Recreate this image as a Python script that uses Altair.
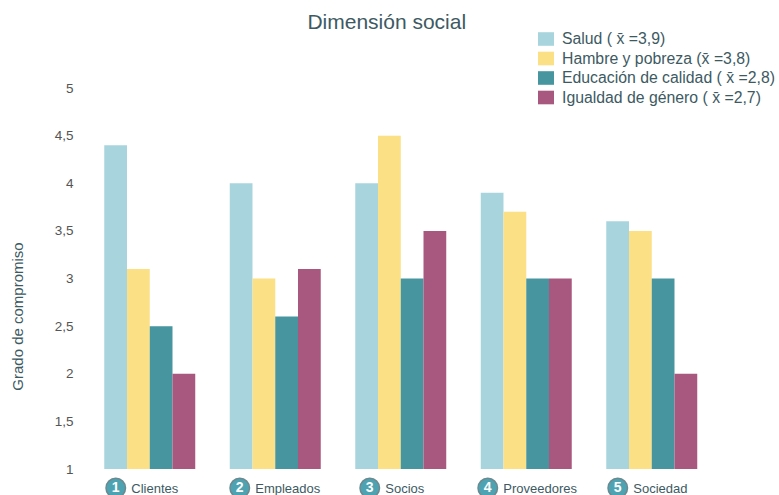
import altair as alt
import pandas as pd

# Stakeholder groups along the x axis and their index numbers
categories = ["Clientes", "Empleados", "Socios", "Proveedores", "Sociedad"]
numbers = ["1", "2", "3", "4", "5"]

# Series (legend entries) and their scores per group
series = [
    "Salud ( x\u0304 =3,9)",
    "Hambre y pobreza (x\u0304 =3,8)",
    "Educación de calidad ( x\u0304 =2,8)",
    "Igualdad de género ( x\u0304 =2,7)",
]
salud = [4.4, 4.0, 4.0, 3.9, 3.6]
hambre = [3.1, 3.0, 4.5, 3.7, 3.5]
educacion = [2.5, 2.6, 3.0, 3.0, 3.0]
igualdad = [2.0, 3.1, 3.5, 3.0, 2.0]

colors = ["#a8d5dd", "#fbe085", "#46959f", "#a8577e"]
y_ticks = [1, 1.5, 2, 2.5, 3, 3.5, 4, 4.5, 5]

rows = []
for s, vals in zip(series, [salud, hambre, educacion, igualdad]):
    for c, v in zip(categories, vals):
        rows.append({"grupo": c, "serie": s, "valor": v})
bars_df = pd.DataFrame(rows)
labels_df = pd.DataFrame({"grupo": categories, "num": numbers})

FONT = "Liberation Sans"
TEXT = "#3d5a63"

x_enc = alt.X(
    "grupo:N",
    sort=categories,
    axis=None,
    scale=alt.Scale(paddingInner=0.275, paddingOuter=0.1375),
)

bars = alt.Chart(bars_df).mark_bar().encode(
    x=x_enc,
    xOffset=alt.XOffset("serie:N", sort=series, scale=alt.Scale(paddingInner=0, paddingOuter=0)),
    y=alt.Y(
        "valor:Q",
        scale=alt.Scale(domain=[1, 5], nice=False, zero=False),
        axis=alt.Axis(
            values=y_ticks,
            labelExpr="replace(toString(datum.value), '.', ',')",
            domain=False,
            ticks=False,
            grid=False,
            labelPadding=14,
            labelFontSize=13.5,
            labelColor="#555555",
            labelFont=FONT,
            title="Grado de compromiso",
            titleFont=FONT,
            titleFontSize=15,
            titleFontWeight="normal",
            titleColor=TEXT,
            titleAngle=-90,
            titleX=-70,
            titleY=228,
            titleAlign="center",
            titleBaseline="middle",
        ),
    ),
    y2=alt.datum(1),
    color=alt.Color(
        "serie:N",
        sort=series,
        scale=alt.Scale(domain=series, range=colors),
        legend=alt.Legend(
            title=None,
            orient="none",
            legendX=451,
            legendY=-57,
            padding=0,
            symbolType="M-1,-0.85H1V0.85H-1Z",
            symbolSize=256,
            symbolStrokeWidth=0,
            symbolOpacity=1,
            labelFont=FONT,
            labelFontSize=15.8,
            labelColor=TEXT,
            labelLimit=0,
            labelOffset=8,
            rowPadding=3.5,
        ),
    ),
)

# Offsets are measured from the left edge of each group's band
base_labels = alt.Chart(labels_df).transform_calculate(
    circ_off="23.5 - 1.5 * length(datum.grupo)",
    txt_off="39 - 1.5 * length(datum.grupo)",
)

circles = base_labels.mark_point(
    shape="circle", filled=True, size=380, fill="#4ea3b3", stroke="#6b8a90", strokeWidth=1.5, opacity=1
).encode(
    x=x_enc,
    xOffset=alt.XOffset("circ_off:Q", scale=None),
    y=alt.value(400),
)

nums = base_labels.mark_text(
    font=FONT, fontSize=14, fontWeight="bold", color="white", baseline="middle", align="center"
).encode(
    x=x_enc,
    xOffset=alt.XOffset("circ_off:Q", scale=None),
    y=alt.value(400),
    text="num:N",
)

names = base_labels.mark_text(
    font=FONT, fontSize=13, color=TEXT, baseline="middle", align="left"
).encode(
    x=x_enc,
    xOffset=alt.XOffset("txt_off:Q", scale=None),
    y=alt.value(401),
    text="grupo:N",
)

chart = (
    alt.layer(bars, circles, nums, names)
    .resolve_scale(xOffset="independent")
    .properties(
        width=627.5,
        height=381,
        autosize=alt.AutoSizeParams(type="none"),
        padding={"left": 87, "top": 88, "right": 64.5, "bottom": 26},
        title=alt.TitleParams(
            "Dimensión social",
            font=FONT,
            fontSize=21,
            fontWeight="normal",
            color=TEXT,
            anchor="middle",
            dx=-14,
            offset=-2,
        ),
    )
    .configure_view(stroke=None)
)

chart.save("out.html", embed_options={"renderer": "svg", "actions": False})
